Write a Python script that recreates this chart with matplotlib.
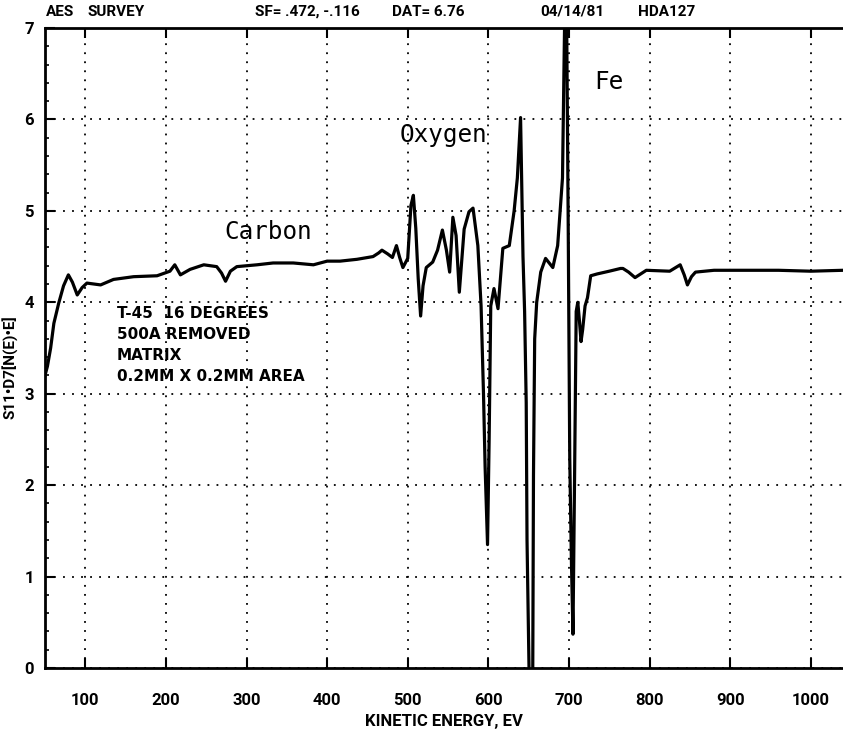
import matplotlib
matplotlib.use("Agg")
import matplotlib.pyplot as plt
from matplotlib.ticker import MultipleLocator
from matplotlib import font_manager

# ---- data ----
energy_ev = [50, 53, 57, 61, 67, 73, 79, 84, 90, 96, 102, 119, 135, 160, 189, 205, 211, 218,
             230, 247, 263, 269, 274, 280, 288, 313, 333, 358, 383, 400, 416, 437, 457, 464,
             468, 475, 481, 486, 490, 494, 500, 504, 507, 510, 513, 516, 519, 523, 531, 537,
             543, 548, 552, 556, 560, 564, 570, 576, 581, 587, 591, 594, 596, 599, 601, 603,
             607, 612, 618, 626, 632, 636, 640, 643, 645, 647, 648, 651, 655, 656, 657.5, 660,
             665, 671, 680, 686, 692, 695, 697, 699, 701, 703, 705, 707, 709, 711, 713, 715,
             717, 720, 723, 727, 735, 750, 764, 767, 774, 782, 796, 825, 838, 843, 847, 852,
             857, 880, 912, 960, 1000, 1040]
signal = [3.20, 3.30, 3.50, 3.77, 3.99, 4.18, 4.30, 4.22, 4.08, 4.16, 4.21, 4.19, 4.25, 4.28,
          4.29, 4.34, 4.41, 4.30, 4.36, 4.41, 4.39, 4.32, 4.23, 4.34, 4.39, 4.41, 4.43, 4.43,
          4.41, 4.45, 4.45, 4.47, 4.50, 4.54, 4.57, 4.53, 4.49, 4.62, 4.49, 4.38, 4.48, 5.06,
          5.17, 4.81, 4.26, 3.85, 4.18, 4.38, 4.44, 4.57, 4.79, 4.57, 4.33, 4.93, 4.73, 4.11,
          4.80, 4.99, 5.03, 4.62, 3.96, 3.00, 2.20, 1.35, 2.50, 3.96, 4.15, 3.93, 4.59, 4.62,
          5.00, 5.36, 6.02, 4.50, 3.90, 2.90, 1.40, -0.30, -0.30, 2.10, 3.60, 4.00, 4.33, 4.48,
          4.38, 4.62, 5.36, 7.30, 7.30, 4.96, 2.30, 1.20, 0.37, 2.10, 3.90, 4.00, 3.80, 3.57,
          3.70, 3.96, 4.05, 4.29, 4.31, 4.34, 4.37, 4.37, 4.33, 4.27, 4.35, 4.34, 4.41, 4.30,
          4.19, 4.28, 4.33, 4.35, 4.35, 4.35, 4.34, 4.35]

x_ticks = [100, 200, 300, 400, 500, 600, 700, 800, 900, 1000]
y_ticks = [0, 1, 2, 3, 4, 5, 6, 7]

header_parts = ["AES", "SURVEY", "SF= .472, -.116", "DAT= 6.76", "04/14/81", "HDA127"]
header_x_px = [46, 88, 255, 392, 540, 638]
sample_lines = ["T-45  16 DEGREES", "500A REMOVED", "MATRIX", "0.2MM X 0.2MM AREA"]
peak_labels = [("Carbon", 273, 4.77), ("Oxygen", 490, 5.83), ("Fe", 732, 6.41)]

# ---- fonts ----
avail = {f.name for f in font_manager.fontManager.ttflist}
narrow = "Roboto" if "Roboto" in avail else "DejaVu Sans"

W, H = 843, 733
fig = plt.figure(figsize=(W / 100, H / 100), dpi=100)
ax = fig.add_axes([45 / W, 65 / H, 1 - 45 / W, 640 / H])

ax.plot(energy_ev, signal, color="black", lw=2.3, solid_joinstyle="round")

ax.set_xlim(50, 1040)
ax.set_ylim(0, 7)
ax.set_xticks(x_ticks)
ax.set_yticks(y_ticks)
ax.yaxis.set_minor_locator(MultipleLocator(0.2))
ax.grid(True, which="major", color="black", linestyle=(0, (1, 4)), lw=1.3)

for s in ["left", "bottom", "top"]:
    ax.spines[s].set_linewidth(2.0)
ax.spines["right"].set_visible(False)

ax.tick_params(axis="both", which="major", direction="in", length=7, width=1.5,
               top=True, labelsize=12)
ax.tick_params(axis="y", which="minor", direction="in", length=3, width=1.2)
for lab in ax.get_xticklabels() + ax.get_yticklabels():
    lab.set_fontfamily(narrow)
    lab.set_fontweight("bold")
ax.tick_params(axis="x", pad=18)
ax.tick_params(axis="y", pad=8)

ax.set_xlabel("KINETIC ENERGY, EV", fontfamily=narrow, fontweight="bold", fontsize=12, labelpad=4)
ax.set_ylabel("S11•D7[N(E)•E]", fontfamily=narrow, fontweight="bold", fontsize=11)
ax.yaxis.set_label_coords(-27 / 798, 0.47)

for txt, xp in zip(header_parts, header_x_px):
    fig.text(xp / W, 1 - 12 / H, txt, fontfamily=narrow, fontweight="bold",
             fontsize=11, ha="left", va="center")

ax.text((117 - 45) / 798, (668 - 306) / 640, "\n".join(sample_lines), transform=ax.transAxes,
        fontfamily="DejaVu Sans", fontweight="bold", fontsize=11, ha="left", va="top",
        linespacing=1.5)

for name, xe, yv in peak_labels:
    ax.text(xe, yv, name, fontfamily="DejaVu Sans Mono", fontsize=17.5, ha="left", va="center")

fig.savefig("out.png", dpi=100)
